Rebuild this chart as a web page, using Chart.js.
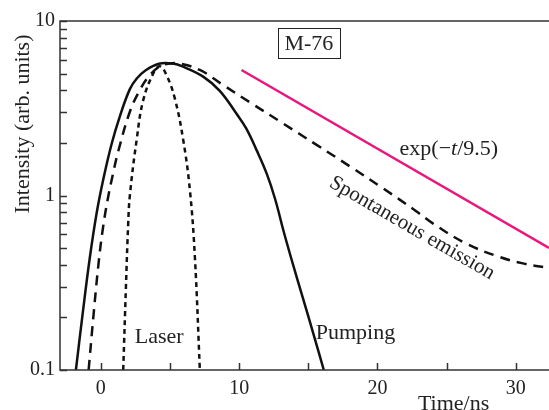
<!DOCTYPE html>
<html>
<head>
<meta charset="utf-8">
<title>M-76 intensity vs time</title>
<script src="https://cdn.jsdelivr.net/npm/chart.js@4/dist/chart.umd.min.js"></script>
<style>
  html, body { margin: 0; padding: 0; background: #fff; }
  #wrap { width: 549px; height: 410px; }
</style>
</head>
<body>
<div id="wrap"><canvas id="chart" width="549" height="410"></canvas></div>
<script>
// Data (time in ns, intensity in arb. units)
const pumpTime = [-1.8, -1.3, -0.8, -0.3, 0.2, 0.8, 1.4, 2.1, 2.6, 3.2, 4.2, 5.2, 5.95, 7.4, 8.6, 9.8, 10.5, 11.26, 12.0, 12.6, 13.2, 13.8, 14.6, 15.4, 16.12];
const pumpValue = [0.1, 0.214, 0.437, 0.794, 1.26, 2.0, 2.88, 4.07, 4.68, 5.19, 5.69, 5.7, 5.47, 4.8, 3.98, 2.95, 2.43, 1.82, 1.33, 0.955, 0.63, 0.427, 0.26, 0.158, 0.1];

const spontTime = [-0.88, -0.54, -0.17, 0.15, 0.51, 0.87, 1.26, 2.1, 2.83, 3.55, 4.27, 5.0, 5.72, 7.16, 8.8, 10.8, 13.2, 15.6, 18.0, 20.4, 22.8, 24.0, 26.4, 28.8, 30.6, 32.4];
const spontValue = [0.1, 0.201, 0.403, 0.647, 0.961, 1.32, 1.79, 3.02, 4.03, 4.9, 5.5, 5.71, 5.7, 5.24, 4.32, 3.41, 2.58, 1.95, 1.47, 1.1, 0.813, 0.692, 0.531, 0.445, 0.407, 0.385];

const laserTime = [1.62, 1.81, 1.98, 2.1, 2.59, 3.06, 3.79, 4.27, 4.75, 5.35, 5.95, 6.44, 6.8, 7.16];
const laserValue = [0.1, 0.29, 0.69, 1.0, 2.08, 3.5, 5.0, 5.5, 4.9, 3.6, 2.1, 1.075, 0.445, 0.1];

// exp(-t/9.5) guide line, end points
const fitTime = [10.17, 32.4];
const fitValue = [5.24, 0.5];

// axis ticks
const xTicks = [0, 5, 10, 15, 20, 25, 30];
const xLabels = [0, 10, 20, 30];
const yTicks = [0.1, 0.2, 0.3, 0.4, 0.5, 0.6, 0.7, 0.8, 0.9, 1, 2, 3, 4, 5, 6, 7, 8, 9, 10];
const yLabels = [0.1, 1, 10];

const FONT = '"Liberation Serif", "DejaVu Serif", serif';
const INK = '#111';
const AXIS = '#333';
const PINK = '#e8177d';

function toPoints(xs, ys) {
    return xs.map((x, i) => ({ x: x, y: ys[i] }));
}

// frame, inward ticks and text labels
const decorations = {
    id: 'decorations',
    afterDraw(chart) {
        const { ctx, chartArea, scales } = chart;
        const sx = scales.x, sy = scales.y;
        const tick = 7;
        ctx.save();

        // frame (left, bottom, top)
        ctx.strokeStyle = AXIS;
        ctx.lineWidth = 1.5;
        ctx.beginPath();
        ctx.moveTo(chartArea.right, chartArea.top);
        ctx.lineTo(chartArea.left, chartArea.top);
        ctx.lineTo(chartArea.left, chartArea.bottom);
        ctx.lineTo(chartArea.right, chartArea.bottom);
        ctx.stroke();

        ctx.beginPath();
        xTicks.forEach(v => {
            const px = Math.round(sx.getPixelForValue(v)) + 0.5;
            ctx.moveTo(px, chartArea.bottom);
            ctx.lineTo(px, chartArea.bottom - tick);
        });
        yTicks.forEach(v => {
            const py = Math.round(sy.getPixelForValue(v)) + 0.5;
            ctx.moveTo(chartArea.left, py);
            ctx.lineTo(chartArea.left + tick, py);
        });
        ctx.stroke();

        ctx.fillStyle = '#222';
        ctx.font = '22px ' + FONT;
        ctx.textBaseline = 'alphabetic';

        // M-76 box
        const mx = sx.getPixelForValue(15.04), my = sy.getPixelForValue(7.48);
        ctx.lineWidth = 1;
        ctx.strokeStyle = '#222';
        ctx.strokeRect(Math.round(mx - 31) + 0.5, Math.round(my - 15) + 0.5, 62, 30);
        ctx.textAlign = 'center';
        ctx.textBaseline = 'middle';
        ctx.fillText('M-76', mx, my + 1);

        // exp(-t/9.5)
        ctx.textAlign = 'left';
        ctx.textBaseline = 'alphabetic';
        let ex = sx.getPixelForValue(21.6);
        const ey = sy.getPixelForValue(1.71);
        const parts = [['exp(\u2212', ''], ['t', 'italic '], ['/9.5)', '']];
        parts.forEach(p => {
            ctx.font = p[1] + '22px ' + FONT;
            ctx.fillText(p[0], ex, ey);
            ex += ctx.measureText(p[0]).width;
        });
        ctx.font = '22px ' + FONT;

        // Laser / Pumping
        ctx.fillText('Laser', sx.getPixelForValue(2.46), sy.getPixelForValue(0.143));
        ctx.fillText('Pumping', sx.getPixelForValue(15.54), sy.getPixelForValue(0.151));

        // Spontaneous emission, along the dashed curve
        ctx.save();
        ctx.font = '21px ' + FONT;
        ctx.translate(sx.getPixelForValue(22.5), sy.getPixelForValue(0.65));
        ctx.rotate(30 * Math.PI / 180);
        ctx.textAlign = 'center';
        ctx.textBaseline = 'middle';
        ctx.fillText('Spontaneous emission', 0, 0);
        ctx.restore();

        // axis titles
        ctx.save();
        ctx.translate(chartArea.left - 37, chartArea.top + 103);
        ctx.rotate(-Math.PI / 2);
        ctx.textAlign = 'center';
        ctx.textBaseline = 'middle';
        ctx.fillText('Intensity (arb. units)', 0, 0);
        ctx.restore();

        ctx.textAlign = 'center';
        ctx.fillText('Time/ns', sx.getPixelForValue(25.5), chartArea.bottom + 40);

        ctx.restore();
    }
};

document.addEventListener('DOMContentLoaded', function () {
    const ctx = document.getElementById('chart').getContext('2d');

    new Chart(ctx, {
        type: 'line',
        data: {
            datasets: [
                {
                    label: 'Pumping',
                    data: toPoints(pumpTime, pumpValue),
                    borderColor: INK,
                    borderWidth: 2.5,
                    tension: 0.4
                },
                {
                    label: 'Spontaneous emission',
                    data: toPoints(spontTime, spontValue),
                    borderColor: INK,
                    borderWidth: 2.5,
                    borderDash: [10, 7],
                    tension: 0.4
                },
                {
                    label: 'Laser',
                    data: toPoints(laserTime, laserValue),
                    borderColor: INK,
                    borderWidth: 2.5,
                    borderDash: [5, 4],
                    tension: 0.4
                },
                {
                    label: 'exp(-t/9.5)',
                    data: toPoints(fitTime, fitValue),
                    borderColor: PINK,
                    borderWidth: 2.5
                }
            ]
        },
        options: {
            responsive: false,
            animation: false,
            devicePixelRatio: 1,
            clip: false,
            elements: { point: { radius: 0 } },
            layout: { padding: { top: 21, right: 0, left: 0, bottom: 0 } },
            plugins: {
                legend: { display: false },
                tooltip: { enabled: false }
            },
            scales: {
                x: {
                    type: 'linear',
                    min: -2.95,
                    max: 32.4,
                    grid: { display: false, drawTicks: false },
                    border: { display: false },
                    afterBuildTicks: function (scale) {
                        scale.ticks = xLabels.map(v => ({ value: v }));
                    },
                    afterFit: function (scale) { scale.height = 40; },
                    ticks: {
                        autoSkip: false,
                        maxRotation: 0,
                        padding: 7,
                        color: '#222',
                        font: { family: FONT, size: 20 }
                    }
                },
                y: {
                    type: 'logarithmic',
                    min: 0.1,
                    max: 10,
                    grid: { display: false, drawTicks: false },
                    border: { display: false },
                    afterBuildTicks: function (scale) {
                        scale.ticks = yLabels.map(v => ({ value: v }));
                    },
                    afterFit: function (scale) { scale.width = 60; },
                    ticks: {
                        autoSkip: false,
                        padding: 5,
                        color: '#222',
                        font: { family: FONT, size: 20 },
                        callback: function (v) { return String(v); }
                    }
                }
            }
        },
        plugins: [decorations]
    });
});
</script>
</body>
</html>
